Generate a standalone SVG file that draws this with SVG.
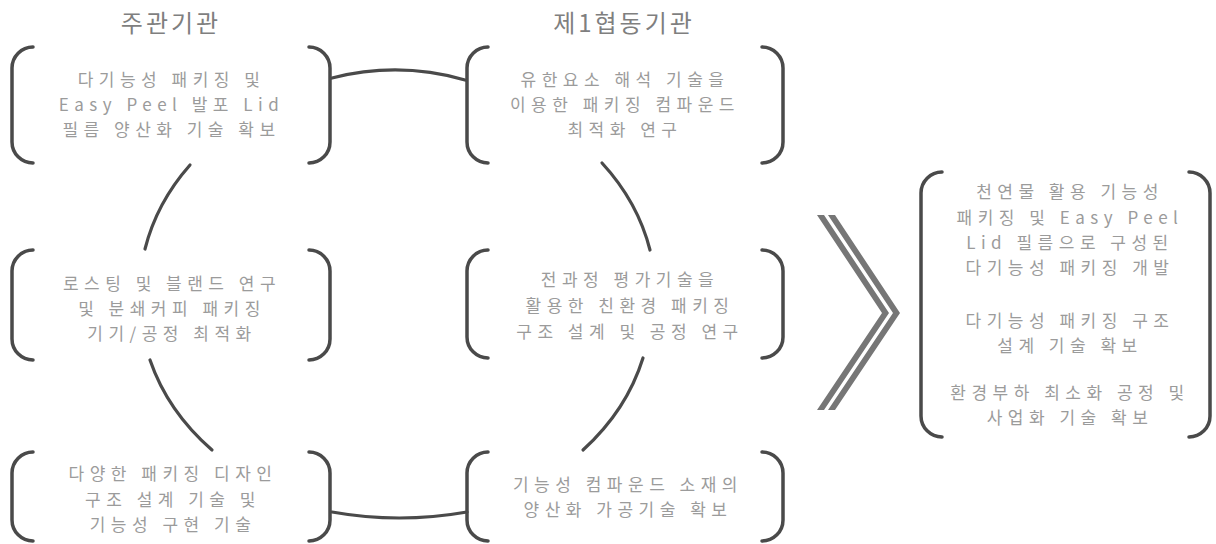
<svg xmlns="http://www.w3.org/2000/svg" width="1216" height="544" viewBox="0 0 1216 544">
<style>
.br{fill:none;stroke:#4a4a4a;stroke-width:3.5;stroke-linecap:round}
.cn{fill:none;stroke:#4a4a4a;stroke-width:3.2;stroke-linecap:round}
.t{font-family:"Noto Sans CJK KR","Noto Sans",sans-serif;font-size:17px;fill:#9b9b9b;text-anchor:middle;letter-spacing:5.5px}
.h{font-family:"Noto Sans CJK KR","Noto Sans",sans-serif;font-size:24px;fill:#7f7f7f;text-anchor:middle;letter-spacing:3px}
.chev{fill:#767676}
</style>
<rect width="1216" height="544" fill="#ffffff"/>
<g id="titles">
<text class="h" x="171" y="32">주관기관</text>
<text class="h" x="624" y="32">제1협동기관</text>
</g>
<g id="connectors">
<path class="cn" d="M332,78 Q399,61 465,80"/>
<path class="cn" d="M332,512 Q399,524 467,512"/>
<path class="cn" d="M190,165 A257,216 0 0 0 145,249"/>
<path class="cn" d="M150,360 A257,216 0 0 0 212,450"/>
<path class="cn" d="M602,163 A257,216 0 0 1 650,250"/>
<path class="cn" d="M643,358 A257,216 0 0 1 583,450"/>
</g>
<g id="node-tl">
<path class="br" d="M33,47 A21,21 0 0 0 12,68 L12,142 A21,21 0 0 0 33,163"/>
<path class="br" d="M309,47 A21,21 0 0 1 330,68 L330,142 A21,21 0 0 1 309,163"/>
<text class="t" x="171.5" y="86">다기능성 패키징 및</text>
<text class="t" x="171.5" y="111">Easy Peel 발포 Lid</text>
<text class="t" x="171.5" y="136">필름 양산화 기술 확보</text>
</g>
<g id="node-tr">
<path class="br" d="M488,47 A21,21 0 0 0 467,68 L467,142 A21,21 0 0 0 488,163"/>
<path class="br" d="M762,47 A21,21 0 0 1 783,68 L783,142 A21,21 0 0 1 762,163"/>
<text class="t" x="625" y="86">유한요소 해석 기술을</text>
<text class="t" x="625" y="111">이용한 패키징 컴파운드</text>
<text class="t" x="625" y="136">최적화 연구</text>
</g>
<g id="node-ml">
<path class="br" d="M33,250 A21,21 0 0 0 12,271 L12,339 A21,21 0 0 0 33,360"/>
<path class="br" d="M309,250 A21,21 0 0 1 330,271 L330,339 A21,21 0 0 1 309,360"/>
<text class="t" x="172" y="290">로스팅 및 블랜드 연구</text>
<text class="t" x="172" y="315">및 분쇄커피 패키징</text>
<text class="t" x="172" y="340">기기/공정 최적화</text>
</g>
<g id="node-mr">
<path class="br" d="M488,250 A21,21 0 0 0 467,271 L467,337 A21,21 0 0 0 488,358"/>
<path class="br" d="M762,250 A21,21 0 0 1 783,271 L783,337 A21,21 0 0 1 762,358"/>
<text class="t" x="630" y="286">전과정 평가기술을</text>
<text class="t" x="630" y="312">활용한 친환경 패키징</text>
<text class="t" x="630" y="338">구조 설계 및 공정 연구</text>
</g>
<g id="node-bl">
<path class="br" d="M33,452 A21,21 0 0 0 12,473 L12,520 A21,21 0 0 0 33,541"/>
<path class="br" d="M309,452 A21,21 0 0 1 330,473 L330,520 A21,21 0 0 1 309,541"/>
<text class="t" x="173" y="480">다양한 패키징 디자인</text>
<text class="t" x="173" y="506">구조 설계 기술 및</text>
<text class="t" x="173" y="531">기능성 구현 기술</text>
</g>
<g id="node-br">
<path class="br" d="M488,452 A21,21 0 0 0 467,473 L467,520 A21,21 0 0 0 488,541"/>
<path class="br" d="M762,452 A21,21 0 0 1 783,473 L783,520 A21,21 0 0 1 762,541"/>
<text class="t" x="628" y="491">기능성 컴파운드 소재의</text>
<text class="t" x="628" y="516">양산화 가공기술 확보</text>
</g>
<g id="arrow">
<polygon class="chev" points="817,215 824,215 889,313 824,410 817,410 882,313"/>
<polygon class="chev" points="828,215 835,215 900,313 835,410 828,410 893,313"/>
</g>
<g id="node-result">
<path class="br" d="M942,172 A21,21 0 0 0 921,193 L921,416 A21,21 0 0 0 942,437"/>
<path class="br" d="M1189,172 A21,21 0 0 1 1210,193 L1210,416 A21,21 0 0 1 1189,437"/>
<text class="t" x="1070" y="198">천연물 활용 기능성</text>
<text class="t" x="1070" y="224">패키징 및 Easy Peel</text>
<text class="t" x="1070" y="249">Lid 필름으로 구성된</text>
<text class="t" x="1070" y="274">다기능성 패키징 개발</text>
<text class="t" x="1070" y="327">다기능성 패키징 구조</text>
<text class="t" x="1070" y="352">설계 기술 확보</text>
<text class="t" x="1070" y="399">환경부하 최소화 공정 및</text>
<text class="t" x="1070" y="424">사업화 기술 확보</text>
</g>
</svg>
